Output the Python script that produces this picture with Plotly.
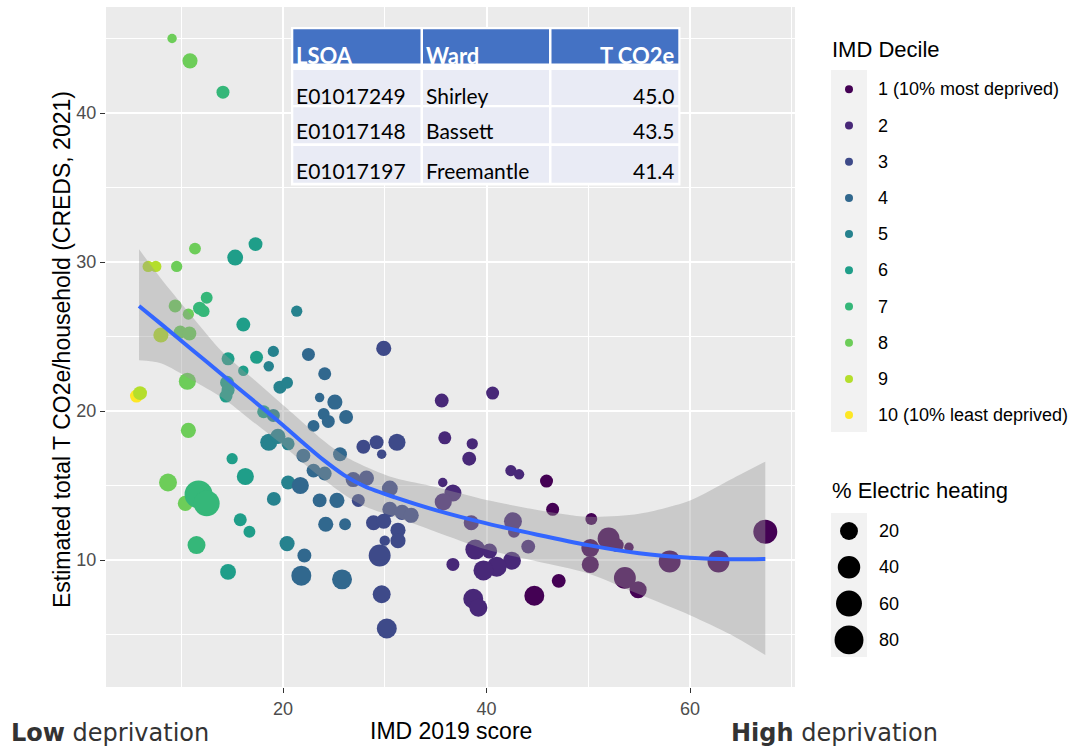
import numpy as np
import plotly.graph_objects as go

W, H = 1076, 750

# ---------------- data ----------------
imd_score = [
    5.6,
    5.95, 6.75, 7.5, 8.0,
    9.1, 10.86, 11.35, 9.55, 9.4, 10.7, 9.9, 10.8, 10.6, 10.7, 8.7, 10.4,
    14.1, 12.5, 11.8, 12.2, 11.7, 12.5, 11.5,
    17.3, 15.3, 16.1, 14.6, 17.4, 16.1, 14.5, 14.6, 14.4, 15.0, 16.3, 15.8, 16.7, 14.6, 18.1,
    21.35, 19.05, 18.6, 19.7, 20.4, 19.05, 18.6, 19.5, 20.5, 20.5, 19.1, 20.4,
    22.5, 24.1, 23.6, 25.1, 24.0, 24.45, 26.2, 23.0, 22.0, 23.0, 24.1, 25.6, 21.7, 23.6, 25.3, 24.2, 26.1, 22.1, 21.8, 25.8,
    29.9, 27.9, 29.2, 31.2, 29.7, 26.9, 28.2, 30.5, 27.4, 28.9, 29.9, 31.3, 31.3, 30.5, 31.7, 32.6, 29.5, 30.0, 29.7, 30.2,
    35.6, 40.6, 35.9, 38.6, 38.3, 42.4, 43.2, 36.7, 35.75, 38.5, 42.6, 42.7, 44.1, 38.9, 40.3, 42.5, 41.0, 39.7, 36.7, 38.7, 39.2, 35.7,
    45.9, 46.5, 44.7, 47.1, 50.3, 50.2, 50.2, 52.0, 52.8, 54.0, 53.6, 54.9, 58.0, 62.8, 67.4,
]
co2_per_household = [
    21.0,
    21.2, 29.7, 29.7, 25.1,
    45.0, 43.5, 30.9, 29.7, 27.05, 26.5, 25.3, 25.2, 22.0, 18.7, 15.2, 13.8,
    41.4, 27.6, 26.9, 26.7, 14.4, 13.8, 11.0,
    31.2, 30.3, 25.8, 23.5, 23.6, 22.7, 21.9, 21.4, 21.0, 16.8, 15.6, 12.7, 11.9, 9.2, 19.95,
    26.7, 24.0, 23.0, 21.6, 21.9, 19.7, 17.9, 18.3, 17.8, 15.2, 14.1, 11.1,
    23.8, 22.5, 20.9, 20.6, 19.8, 19.3, 19.6, 19.0, 17.0, 16.0, 15.8, 17.1, 15.0, 14.0, 14.0, 12.4, 12.4, 10.3, 8.95, 8.7,
    24.2, 17.6, 17.9, 17.9, 17.1, 15.4, 15.5, 14.8, 14.0, 12.5, 12.6, 12.0, 11.3, 13.4, 13.2, 13.0, 10.3, 11.3, 7.7, 5.4,
    20.7, 21.2, 18.2, 17.8, 16.8, 16.0, 15.75, 14.5, 13.9, 12.5, 12.6, 11.9, 10.9, 10.7, 10.6, 9.95, 9.55, 9.3, 9.7, 7.4, 6.8, 15.2,
    15.3, 13.4, 7.6, 8.6, 12.75, 10.8, 9.7, 11.45, 11.0, 10.85, 8.8, 8.0, 9.9, 9.9, 11.9,
]
imd_decile = (
    [10] * 1 + [9] * 4 + [8] * 12 + [7] * 7 + [6] * 15 + [5] * 12
    + [4] * 20 + [3] * 20 + [2] * 22 + [1] * 15
)
electric_heating_pct = [
    6,
    8, 3, 3, 11,
    1, 11, 4, 3, 6, 3, 6, 8, 17, 11, 20, 11,
    6, 4, 6, 4, 73, 60, 20,
    8, 13, 8, 6, 6, 2, 8, 6, 6, 3, 17, 6, 4, 13, 6,
    3, 3, 2, 6, 4, 6, 17, 11, 6, 8, 8, 11,
    6, 6, 1, 11, 4, 6, 8, 4, 8, 8, 8, 8, 17, 8, 11, 11, 4, 8, 28, 28,
    11, 8, 8, 17, 1, 11, 11, 13, 6, 11, 11, 11, 11, 11, 11, 11, 37, 2, 20, 28,
    8, 6, 6, 3, 8, 3, 2, 17, 17, 11, 20, 4, 8, 28, 11, 20, 28, 28, 6, 28, 20, 1,
    6, 6, 28, 8, 4, 20, 17, 37, 8, 1, 37, 17, 37, 37, 48,
]

# loess smooth and its confidence band
smooth_x = [5.85, 8, 11, 14, 17, 20, 22, 24, 26, 28, 31, 35, 40, 45, 50, 55, 60, 64, 67.4]
smooth_y = [27.05, 25.85, 24.15, 22.45, 20.75, 19.05, 17.85, 16.7, 15.7, 14.95, 14.2, 13.35, 12.46, 11.7, 11.0, 10.45, 10.15, 10.05, 10.07]
smooth_hi = [30.85, 28.9, 26.4, 24.0, 22.2, 20.4, 19.2, 18.0, 17.0, 16.3, 15.5, 14.9, 14.03, 13.36, 12.9, 13.1, 14.0, 15.4, 16.6]
smooth_lo = [23.4, 23.2, 22.1, 20.9, 19.3, 17.7, 16.5, 15.4, 14.4, 13.6, 12.9, 11.9, 10.7, 9.9, 9.1, 7.7, 6.3, 5.0, 3.62]

decile_labels = ["1 (10% most deprived)", "2", "3", "4", "5", "6", "7", "8", "9", "10 (10% least deprived)"]
decile_colors = ["#440154", "#482878", "#3E4A89", "#31688E", "#26828E",
                 "#1F9E89", "#35B779", "#6DCD59", "#B4DE2C", "#FDE725"]
size_breaks = [20, 40, 60, 80]

table_cols = ["LSOA", "Ward", "T CO2e"]
table_lsoa = ["E01017249", "E01017148", "E01017197"]
table_ward = ["Shirley", "Bassett", "Freemantle"]
table_co2 = ["45.0", "43.5", "41.4"]


def size_px(p):
    return 7 + 2.45 * np.sqrt(np.asarray(p, dtype=float))


# ---------------- geometry helpers ----------------
def PX(x):
    return x / W


def PY(y):
    return 1 - y / H


panel = dict(l=106, r=795, t=7, b=687)
x_range = [(panel["l"] - 79.5) / 10.175, (panel["r"] - 79.5) / 10.175]
y_range = [40 - (panel["b"] - 113) / 14.9, 40 - (panel["t"] - 113) / 14.9]

fig = go.Figure()

xs = np.array(imd_score)
ys = np.array(co2_per_household)
ds = np.array(imd_decile)
es = np.array(electric_heating_pct)
for dec in range(10, 0, -1):
    m = ds == dec
    fig.add_trace(go.Scatter(
        x=xs[m], y=ys[m], mode="markers", showlegend=False,
        name=decile_labels[dec - 1],
        marker=dict(color=decile_colors[dec - 1], size=size_px(es[m]),
                    opacity=1, line=dict(width=0)),
    ))

# confidence band
fig.add_trace(go.Scatter(x=smooth_x, y=smooth_lo, mode="lines",
                         line=dict(width=0, shape="spline", smoothing=0.8),
                         showlegend=False, hoverinfo="skip"))
fig.add_trace(go.Scatter(x=smooth_x, y=smooth_hi, mode="lines",
                         line=dict(width=0, shape="spline", smoothing=0.8),
                         fill="tonexty", fillcolor="rgba(153,153,153,0.4)",
                         showlegend=False, hoverinfo="skip"))
fig.add_trace(go.Scatter(x=smooth_x, y=smooth_y, mode="lines",
                         line=dict(color="#3366FF", width=4, shape="spline", smoothing=0.8),
                         showlegend=False, hoverinfo="skip"))

shapes = []
annotations = []

tick_font = dict(family="Liberation Sans, Arial, sans-serif", size=18, color="#4D4D4D")
title_font = dict(family="Liberation Sans, Arial, sans-serif", size=23, color="#000000")
legend_title_font = dict(family="Liberation Sans, Arial, sans-serif", size=22, color="#000000")
legend_font = dict(family="Liberation Sans, Arial, sans-serif", size=18, color="#000000")

# axis titles
annotations.append(dict(text="IMD 2019 score", xref="paper", yref="paper",
                        x=PX((panel["l"] + panel["r"]) / 2), y=PY(731),
                        xanchor="center", yanchor="middle", showarrow=False, font=title_font))
annotations.append(dict(text="Estimated total T CO2e/household (CREDS, 2021)", xref="paper", yref="paper",
                        x=PX(62), y=PY(350), textangle=-90,
                        xanchor="center", yanchor="middle", showarrow=False, font=title_font))

# low/high deprivation labels
dep_font = dict(family="DejaVu Sans, sans-serif", size=24, color="#333333")
annotations.append(dict(text="<b>Low</b> deprivation", xref="paper", yref="paper",
                        x=PX(9), y=PY(733), xanchor="left", yanchor="middle",
                        showarrow=False, font=dep_font))
annotations.append(dict(text="<b>High</b> deprivation", xref="paper", yref="paper",
                        x=PX(729), y=PY(733), xanchor="left", yanchor="middle",
                        showarrow=False, font=dep_font))

# ---------------- IMD decile legend ----------------
annotations.append(dict(text="IMD Decile", xref="paper", yref="paper", x=PX(830), y=PY(49),
                        xanchor="left", yanchor="middle", showarrow=False, font=legend_title_font))
shapes.append(dict(type="rect", xref="paper", yref="paper", x0=PX(831), x1=PX(867),
                   y0=PY(70), y1=PY(432), fillcolor="#F2F2F2", line=dict(width=0), layer="above"))
for i, (lab, col) in enumerate(zip(decile_labels, decile_colors)):
    cy = 89.3 + i * 36.2
    r = 4
    shapes.append(dict(type="circle", xref="paper", yref="paper",
                       x0=PX(849 - r), x1=PX(849 + r), y0=PY(cy + r), y1=PY(cy - r),
                       fillcolor=col, line=dict(width=0), layer="above"))
    annotations.append(dict(text=lab, xref="paper", yref="paper", x=PX(876), y=PY(cy),
                            xanchor="left", yanchor="middle", showarrow=False, font=legend_font))

# ---------------- size legend ----------------
annotations.append(dict(text="% Electric heating", xref="paper", yref="paper", x=PX(830), y=PY(491),
                        xanchor="left", yanchor="middle", showarrow=False, font=legend_title_font))
shapes.append(dict(type="rect", xref="paper", yref="paper", x0=PX(831), x1=PX(867),
                   y0=PY(513), y1=PY(657), fillcolor="#F2F2F2", line=dict(width=0), layer="above"))
for i, b in enumerate(size_breaks):
    cy = 531 + i * 36.3
    r = float(size_px(b)) / 2
    shapes.append(dict(type="circle", xref="paper", yref="paper",
                       x0=PX(849 - r), x1=PX(849 + r), y0=PY(cy + r), y1=PY(cy - r),
                       fillcolor="#000000", line=dict(width=0), layer="above"))
    annotations.append(dict(text=str(b), xref="paper", yref="paper", x=PX(877), y=PY(cy),
                            xanchor="left", yanchor="middle", showarrow=False, font=legend_font))

# ---------------- inset table ----------------
col_x = [(293.3, 420.5), (423, 549), (551.5, 678.3)]
row_y = [(70, 105), (107.3, 143.3), (146, 182.7)]
shapes.append(dict(type="rect", xref="paper", yref="paper", x0=PX(291), x1=PX(680.5),
                   y0=PY(185.5), y1=PY(27), fillcolor="white", line=dict(width=0), layer="above"))
for (x0, x1) in col_x:
    shapes.append(dict(type="rect", xref="paper", yref="paper", x0=PX(x0), x1=PX(x1),
                       y0=PY(63.5), y1=PY(29.3), fillcolor="#4472C4", line=dict(width=0), layer="above"))
    for (y0, y1) in row_y:
        shapes.append(dict(type="rect", xref="paper", yref="paper", x0=PX(x0), x1=PX(x1),
                           y0=PY(y1), y1=PY(y0), fillcolor="#E9EBF5", line=dict(width=0), layer="above"))

hdr_font = dict(family="Lato, Carlito, sans-serif", size=22, color="white")
cell_font = dict(family="Lato, Carlito, sans-serif", size=21, color="#000000")
for j, name in enumerate(table_cols):
    if j < 2:
        annotations.append(dict(text="<b>%s</b>" % name, xref="paper", yref="paper",
                                x=PX(col_x[j][0] + 1), y=PY(56), xanchor="left", yanchor="middle",
                                showarrow=False, font=hdr_font))
    else:
        annotations.append(dict(text="<b>%s</b>" % name, xref="paper", yref="paper",
                                x=PX(col_x[j][1] - 1), y=PY(56), xanchor="right", yanchor="middle",
                                showarrow=False, font=hdr_font))
cell_cy = [95, 131, 170]
for i in range(3):
    annotations.append(dict(text=table_lsoa[i], xref="paper", yref="paper", x=PX(col_x[0][0] + 1),
                            y=PY(cell_cy[i]), xanchor="left", yanchor="middle", showarrow=False, font=cell_font))
    annotations.append(dict(text=table_ward[i], xref="paper", yref="paper", x=PX(col_x[1][0] + 1),
                            y=PY(cell_cy[i]), xanchor="left", yanchor="middle", showarrow=False, font=cell_font))
    annotations.append(dict(text=table_co2[i], xref="paper", yref="paper", x=PX(col_x[2][1] - 1),
                            y=PY(cell_cy[i]), xanchor="right", yanchor="middle", showarrow=False, font=cell_font))

fig.update_layout(
    width=W, height=H,
    margin=dict(l=0, r=0, t=0, b=0, pad=0),
    paper_bgcolor="white",
    plot_bgcolor="#EBEBEB",
    showlegend=False,
    shapes=shapes,
    annotations=annotations,
    xaxis=dict(
        domain=[PX(panel["l"]), PX(panel["r"])], range=x_range,
        tickvals=[20, 40, 60], ticktext=["20", "40", "60"],
        showgrid=True, gridcolor="white", gridwidth=2,
        minor=dict(tickvals=[10, 30, 50, 70], showgrid=True, gridcolor="white", gridwidth=1, ticks=""),
        zeroline=False, showline=False,
        ticks="outside", ticklen=5, tickwidth=1.2, tickcolor="#333333",
        tickfont=tick_font,
    ),
    yaxis=dict(
        domain=[PY(panel["b"]), PY(panel["t"])], range=y_range,
        tickvals=[10, 20, 30, 40], ticktext=["10", "20", "30", "40"],
        showgrid=True, gridcolor="white", gridwidth=2,
        minor=dict(tickvals=[5, 15, 25, 35, 45], showgrid=True, gridcolor="white", gridwidth=1, ticks=""),
        zeroline=False, showline=False,
        ticks="outside", ticklen=5, tickwidth=1.2, tickcolor="#333333",
        tickfont=tick_font,
    ),
)

fig.write_html("out.html")
